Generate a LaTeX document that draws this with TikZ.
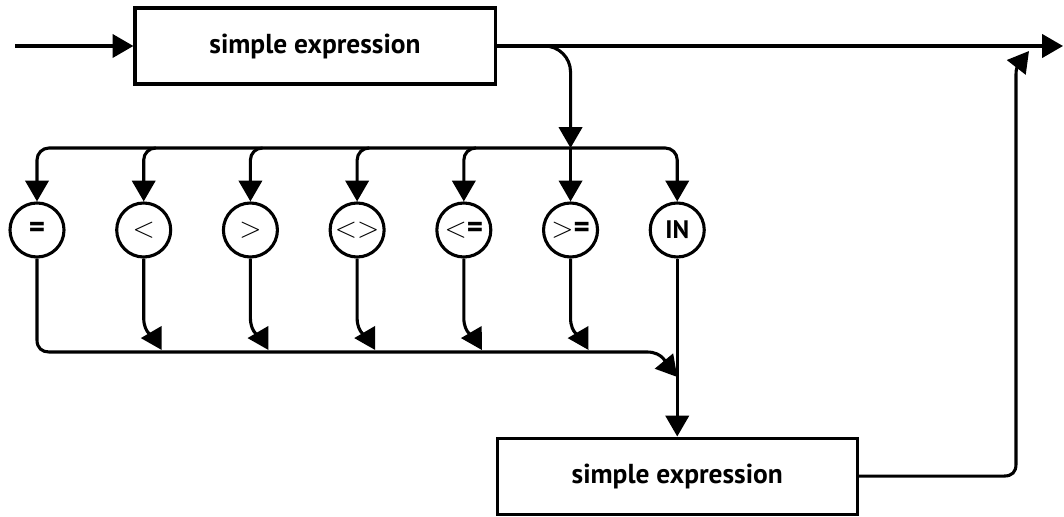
\documentclass[tikz,border=0pt]{standalone}
\usepackage{fontspec}
\setmainfont{PT Sans}
\usepackage{tikz}
\usetikzlibrary{arrows.meta,positioning,calc}

\begin{document}
\begin{tikzpicture}[
    x=0.025cm, y=-0.025cm,
    node distance=2.667cm, on grid,
    exprbox/.style={rectangle, draw, line width=2.2pt, minimum width=9cm, minimum height=1.9cm, font=\fontsize{19.5}{23}\selectfont\bfseries},
    relop/.style={circle, draw, line width=2.2pt, minimum size=1.35cm, inner sep=0pt, font=\fontsize{22}{24}\selectfont},
    flow/.style={line width=2.2pt, -{Triangle[length=0.52cm,width=0.58cm]}}
]
    \useasboundingbox (0,0) rectangle (1064,517);

    \node[exprbox] (expr1) at (315,46) {simple expression};
    \node[relop] (eq) at (37,230) {\textbf{=}};
    \node[relop, right=of eq] (lt) {$<$};
    \node[relop, right=of lt] (gt) {$>$};
    \node[relop, right=of gt] (ne) {$<>$};
    \node[relop, right=of ne] (le) {$<$\textbf{=}};
    \node[relop, right=of le] (ge) {$>$\textbf{=}};
    \node[relop, right=of ge, font=\fontsize{18}{20}\selectfont\bfseries] (in) {IN};
    \node[exprbox, below=6.15cm of in] (expr2) {simple expression};

    \coordinate (start) at (15,46);
    \coordinate (stop) at (1063,46);
    \coordinate (bus) at (0,148);
    \coordinate (lowbus) at (0,352);
    \coordinate (back) at (1016,74);
    \coordinate (backtip) at (1029,51);

    \draw[flow] (start) -- (expr1.west);
    \draw[flow] (expr1.east) -- (stop);
    \draw[flow, rounded corners=0.65cm] (expr1.east) -| (ge.north |- bus);

    \draw[flow, rounded corners=0.3cm] (ge.north |- bus) -| (eq.north);
    \draw[flow, rounded corners=0.3cm] (ge.north |- bus) -| (in.north);
    \draw[flow] (ge.north |- bus) -- (ge.north);
    \draw[flow, rounded corners=0.3cm] ($(lt.north |- bus)+(12,0)$) -| (lt.north);
    \draw[flow, rounded corners=0.3cm] ($(gt.north |- bus)+(12,0)$) -| (gt.north);
    \draw[flow, rounded corners=0.3cm] ($(ne.north |- bus)+(12,0)$) -| (ne.north);
    \draw[flow, rounded corners=0.3cm] ($(le.north |- bus)+(12,0)$) -| (le.north);

    \draw[flow] (lt.south) -- ($(lt.south |- lowbus)+(0,-34)$) .. controls +(0,16) and +(-7,-12) .. ($(lt.south |- lowbus)+(18,-2)$);
    \draw[flow] (gt.south) -- ($(gt.south |- lowbus)+(0,-34)$) .. controls +(0,16) and +(-7,-12) .. ($(gt.south |- lowbus)+(18,-2)$);
    \draw[flow] (ne.south) -- ($(ne.south |- lowbus)+(0,-34)$) .. controls +(0,16) and +(-7,-12) .. ($(ne.south |- lowbus)+(18,-2)$);
    \draw[flow] (le.south) -- ($(le.south |- lowbus)+(0,-34)$) .. controls +(0,16) and +(-7,-12) .. ($(le.south |- lowbus)+(18,-2)$);
    \draw[flow] (ge.south) -- ($(ge.south |- lowbus)+(0,-34)$) .. controls +(0,16) and +(-7,-12) .. ($(ge.south |- lowbus)+(18,-2)$);

    \draw[flow] (eq.south) -- ($(eq.south |- lowbus)+(0,-12)$) .. controls +(0,8) and +(-7,0) .. ($(eq.south |- lowbus)+(12,0)$)
        -- ($(in.south |- lowbus)+(-30,0)$) .. controls +(16,0) and +(-10,-12) .. ($(in.south |- lowbus)+(0,25)$);
    \draw[flow] (in.south) -- (in.south |- expr2.north);

    \draw[flow] (expr2.east) -- ($(expr2.east -| back)+(-12,0)$) .. controls +(8,0) and +(0,8) .. ($(expr2.east -| back)+(0,-12)$)
        -- (back) .. controls +(0,-10) and +(-7,9) .. (backtip);
\end{tikzpicture}
\end{document}
